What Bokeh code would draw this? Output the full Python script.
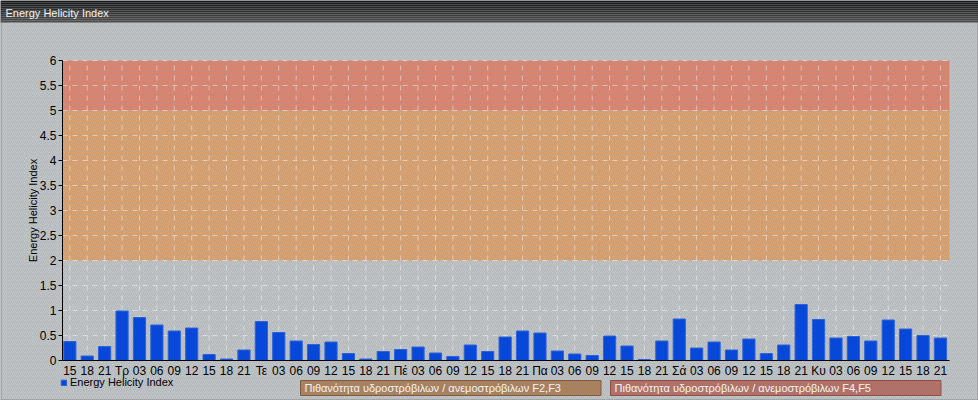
from bokeh.plotting import figure
from bokeh.models import (ColumnDataSource, FixedTicker, NumeralTickFormatter, BoxAnnotation,
                          Label, Legend, LegendItem, Range1d, LinearAxis)
from bokeh.embed import file_html
from bokeh.resources import INLINE

# ---------------- data ----------------
tick_labels = ["15", "18", "21",
               "Τρ", "03", "06", "09", "12", "15", "18", "21",
               "Τε", "03", "06", "09", "12", "15", "18", "21",
               "Πέ", "03", "06", "09", "12", "15", "18", "21",
               "Πα", "03", "06", "09", "12", "15", "18", "21",
               "Σά", "03", "06", "09", "12", "15", "18", "21",
               "Κυ", "03", "06", "09", "12", "15", "18", "21"]
ehi_values = [0.38, 0.09, 0.28,
              0.99, 0.86, 0.71, 0.59, 0.65, 0.12, 0.03, 0.21,
              0.78, 0.56, 0.39, 0.32, 0.37, 0.14, 0.03, 0.18,
              0.22, 0.27, 0.15, 0.08, 0.31, 0.18, 0.47, 0.59,
              0.55, 0.19, 0.13, 0.10, 0.49, 0.29, 0.02, 0.39,
              0.83, 0.25, 0.37, 0.21, 0.43, 0.14, 0.31, 1.12,
              0.82, 0.45, 0.48, 0.39, 0.81, 0.63, 0.50, 0.45]
y_ticks = [0, 0.5, 1, 1.5, 2, 2.5, 3, 3.5, 4, 4.5, 5, 5.5, 6]
y_min, y_max = 0, 6
band_bottoms = [2, 5]
band_tops = [5, 6]
band_labels = ["Πιθανότητα υδροστρόβιλων / ανεμοστρόβιλων F2,F3",
               "Πιθανότητα υδροστρόβιλων / ανεμοστρόβιλων F4,F5"]
series_name = "Energy Helicity Index"
title_text = "Energy Helicity Index"

# ---------------- styles / layout ----------------
FONT = "Liberation Sans"
BG = "#c0c4c7"
BAND_FILL = ["#dba271", "#dc8571"]
BOX_FILL = ["#a88160", "#b07268"]
BOX_LINE = ["#7f5c3e", "#8a5048"]
BAR_FILL = "#0848d8"
BAR_LINE = "#2d62dc"
HEADER_SHADES = ["#1c1c1c", "#202020", "#252525", "#2a2a2a", "#2f2f2f", "#343434",
                 "#393939", "#3e3e3e", "#434343", "#484848", "#4d4d4d"]

W, H = 978, 400
PLOT_L, PLOT_R, PLOT_T, PLOT_B = 62, 949, 60, 360   # pixel box of the plotting area
n = len(ehi_values)
x_lo, x_hi = -0.42, n - 0.48
xpx = (PLOT_R - PLOT_L) / (x_hi - x_lo)
ypx = (PLOT_B - PLOT_T) / (y_max - y_min)
x_range = Range1d(x_lo - PLOT_L / xpx, x_hi + (W - PLOT_R) / xpx)
y_range = Range1d(y_min - (H - PLOT_B) / ypx, y_max + PLOT_T / ypx)

p = figure(width=W, height=H, output_backend="svg", toolbar_location=None,
           x_axis_type=None, y_axis_type=None, x_range=x_range, y_range=y_range,
           min_border=0, min_border_left=0, min_border_right=0,
           min_border_top=0, min_border_bottom=0)
p.background_fill_color = BG
p.border_fill_color = BG
p.outline_line_color = None

# bands
for b, t, c in zip(band_bottoms, band_tops, BAND_FILL):
    p.add_layout(BoxAnnotation(left=x_lo, right=x_hi, bottom=b, top=t, fill_color=c,
                               fill_alpha=1.0, line_color=None, level="image"))
# background texture
p.add_layout(BoxAnnotation(fill_alpha=0, line_color=None, hatch_pattern="/",
                           hatch_color="#7d8387", hatch_alpha=0.18, hatch_scale=4,
                           hatch_weight=1, level="underlay"))

# header bar
hs = len(HEADER_SHADES)
for i, c in enumerate(HEADER_SHADES):
    p.add_layout(BoxAnnotation(top=H - i * 22 / hs, bottom=H - (i + 1) * 22 / hs,
                               top_units="screen", bottom_units="screen",
                               fill_color=c, fill_alpha=1.0, line_color=None, level="overlay"))
p.add_layout(Label(x=5, y=H - 12, x_units="screen", y_units="screen", text=title_text,
                   text_color="#f2f2f2", text_font=FONT, text_font_size="11px",
                   text_baseline="middle", level="overlay"))

# grid lines
idx = list(range(n))
p.segment(x0=idx, x1=idx, y0=[y_min] * n, y1=[y_max] * n,
          line_color="#ffffff", line_alpha=0.45, line_dash="5 5", line_width=1)
p.segment(x0=[x_lo] * len(y_ticks), x1=[x_hi] * len(y_ticks), y0=y_ticks, y1=y_ticks,
          line_color="#ffffff", line_alpha=0.45, line_dash="5 5", line_width=1)

# bars
src = ColumnDataSource(dict(x=idx, top=ehi_values))
bars = p.vbar(x="x", top="top", width=0.7, source=src,
              fill_color=BAR_FILL, line_color=BAR_LINE, line_width=1)

# x axis
xa = LinearAxis(fixed_location=y_min, bounds=(x_lo, x_hi),
                ticker=FixedTicker(ticks=idx),
                major_label_overrides={i: lab for i, lab in enumerate(tick_labels)})
xa.axis_line_color = "#000000"
xa.major_tick_line_color = None
xa.minor_tick_line_color = None
xa.major_tick_out = 0
xa.major_tick_in = 0
xa.major_label_standoff = 3
xa.major_label_text_font = FONT
xa.major_label_text_font_size = "12px"
xa.major_label_text_color = "#000000"
p.add_layout(xa, "below")

# y axis
ya = LinearAxis(fixed_location=x_lo, bounds=(y_min, y_max),
                ticker=FixedTicker(ticks=y_ticks),
                formatter=NumeralTickFormatter(format="0.[0]"))
ya.axis_line_color = "#000000"
ya.major_tick_line_color = "#000000"
ya.major_tick_out = 4
ya.major_tick_in = 0
ya.minor_tick_line_color = None
ya.major_label_standoff = 2
ya.major_label_text_font = FONT
ya.major_label_text_font_size = "12px"
ya.major_label_text_color = "#000000"
ya.axis_label = series_name
ya.axis_label_text_font = FONT
ya.axis_label_text_font_size = "11px"
ya.axis_label_text_font_style = "normal"
ya.axis_label_text_color = "#000000"
ya.axis_label_standoff = -2
p.add_layout(ya, "left")

# series legend
legend = Legend(items=[LegendItem(label=series_name, renderers=[bars])],
                location=(60, 12), orientation="horizontal",
                background_fill_alpha=0, border_line_color=None,
                padding=0, margin=0, spacing=0,
                glyph_width=7, glyph_height=7, label_standoff=3,
                label_height=12, label_text_font=FONT, label_text_font_size="11px",
                label_text_color="#000000")
p.add_layout(legend)

# band legend boxes
box_x = [300, 610]
box_pad_right = [40, 70]
for i, txt in enumerate(band_labels):
    p.add_layout(Label(x=box_x[i], y=5, x_units="screen", y_units="screen", text=txt,
                       text_font=FONT, text_font_size="11px", text_color="#f4f4f4",
                       text_baseline="bottom", text_align="left",
                       background_fill_color=BOX_FILL[i], background_fill_alpha=1.0,
                       border_line_color=BOX_LINE[i], border_line_width=1,
                       padding=dict(left=4, right=box_pad_right[i], top=1, bottom=2)))

# outer border
p.add_layout(BoxAnnotation(fill_alpha=0, line_color="#1a1a1a", line_width=2, level="overlay"))

open("out.html", "w").write(file_html(p, INLINE))
